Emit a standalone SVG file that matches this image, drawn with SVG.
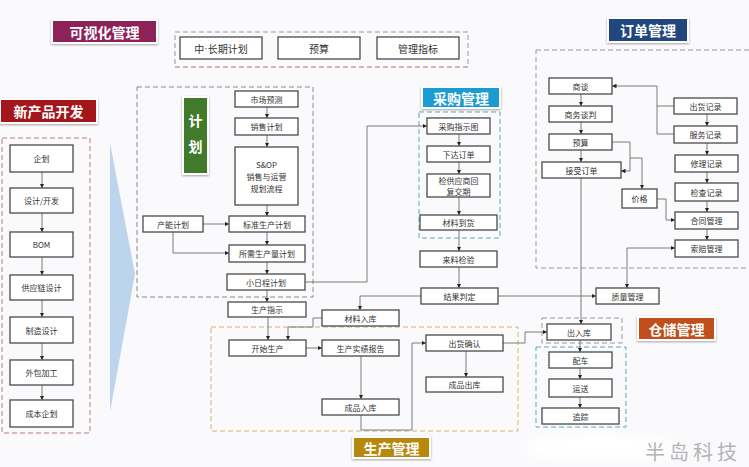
<svg xmlns="http://www.w3.org/2000/svg" width="749" height="467" viewBox="0 0 749 467">
<defs>
<marker id="a" viewBox="0 0 6 6" refX="6" refY="3" markerWidth="5" markerHeight="5" orient="auto-start-reverse"><path d="M0,0 L6,3 L0,6 z" fill="#222"/></marker>
<filter id="sh" x="-20%" y="-30%" width="140%" height="160%"><feDropShadow dx="0" dy="1" stdDeviation="1.2" flood-color="#000" flood-opacity="0.35"/></filter>
<filter id="bl"><feGaussianBlur stdDeviation="6"/></filter>
<style>
.n{fill:#fff;stroke:#4a4a4a;stroke-width:1.3}
.t{font-family:"Noto Sans CJK SC","Noto Sans",sans-serif;font-size:8px;fill:#333;text-anchor:middle;dominant-baseline:central}
.tb{font-size:10px}
.c{fill:none;stroke:#6e6e6e;stroke-width:0.9;marker-end:url(#a)}
.cn{fill:none;stroke:#6e6e6e;stroke-width:0.9}
.g{fill:none;stroke-width:1;stroke-dasharray:5 3}
.lab{stroke:#fff;stroke-width:2;filter:url(#sh)}
.lt{font-family:"Noto Sans CJK SC","Noto Sans",sans-serif;font-size:14px;font-weight:bold;fill:#fff;text-anchor:middle;dominant-baseline:central}
</style>
</defs>
<rect width="749" height="467" fill="#fafafc"/>

<!-- dashed groups -->
<g id="groups">
<rect class="g" x="175" y="32" width="293" height="35" stroke="#999"/>
<line x1="175" y1="67" x2="468" y2="67" stroke="#d9a0a8" stroke-width="1" stroke-dasharray="5 3"/>
<rect class="g" x="2" y="138" width="88" height="295" stroke="#b87884"/>
<rect class="g" x="137" y="87" width="176" height="210" stroke="#8a8a8a"/>
<rect class="g" x="419" y="112" width="81" height="126" stroke="#5aa9b3"/>
<rect class="g" x="211" y="327" width="307" height="104" stroke="#d4b464"/>
<rect class="g" x="536" y="50" width="220" height="218" stroke="#999"/>
<rect class="g" x="542" y="318" width="80" height="25" stroke="#999"/>
<rect class="g" x="536" y="347" width="90" height="80" stroke="#5aa9b3"/>
</g>

<polygon points="110,143 135,274 110,412" fill="#bcd5ed"/>

<!-- labels -->
<g id="lbl-visual"><rect class="lab" x="52" y="20" width="105" height="23" fill="#8c2458"/><text class="lt" x="104.5" y="31.5">可视化管理</text></g>
<g id="lbl-newprod"><rect class="lab" x="0" y="99" width="97" height="24" fill="#a5141e"/><text class="lt" x="48.5" y="111">新产品开发</text></g>
<g id="lbl-plan"><rect class="lab" x="183" y="97" width="25" height="77" fill="#3f7a2c"/><text class="lt" x="195.5" y="120" font-size="16">计</text><text class="lt" x="195.5" y="146" font-size="16">划</text></g>
<g id="lbl-purchase"><rect class="lab" x="422" y="87" width="78" height="21" fill="#1b9bd2"/><text class="lt" x="461" y="97.5">采购管理</text></g>
<g id="lbl-order"><rect class="lab" x="608" y="18" width="80" height="24" fill="#24477f"/><text class="lt" x="648" y="30">订单管理</text></g>
<g id="lbl-wh"><rect class="lab" x="638" y="317" width="77" height="23" fill="#c0501c"/><text class="lt" x="676.5" y="328.5">仓储管理</text></g>
<g id="lbl-prod"><rect class="lab" x="353" y="437" width="77" height="21" fill="#b8870e"/><text class="lt" x="391.5" y="447.5">生产管理</text></g>

<!-- connectors -->
<g id="connectors">
<path class="c" d="M42,172 V188"/>
<path class="c" d="M42,213 V232"/>
<path class="c" d="M42,257 V275"/>
<path class="c" d="M42,300 V317"/>
<path class="c" d="M42,343 V360"/>
<path class="c" d="M42,385 V400"/>

<path class="c" d="M267,107 V118"/>
<path class="c" d="M267,135 V147"/>
<path class="c" d="M267,205 V216"/>
<path class="c" d="M203,224 H229"/>
<path class="c" d="M173,232 V253 H229"/>
<path class="c" d="M267,232 V245"/>
<path class="c" d="M267,262 V274"/>
<path class="c" d="M305,282 H367 V126 H427"/>
<path class="c" d="M267,290 V302"/>
<path class="c" d="M268,317 V340"/>

<path class="c" d="M459,134 V146"/>
<path class="c" d="M459,162 V174"/>
<path class="c" d="M459,197 V215"/>
<path class="c" d="M459,230 V251"/>
<path class="c" d="M459,267 V288"/>
<path class="c" d="M421,296 H360 V310"/>
<path class="c" d="M498,296 H596"/>

<path class="c" d="M581,94 V106"/>
<path class="c" d="M581,122 V134"/>
<path class="c" d="M581,150 V162"/>
<path class="c" d="M674,106 H657 V86 H612"/>
<path class="cn" d="M674,134 H657 V106"/>
<path class="c" d="M707,114 V126"/>
<path class="c" d="M707,143 V155"/>
<path class="c" d="M707,172 V183"/>
<path class="c" d="M707,201 V212"/>
<path class="c" d="M707,229 V240"/>
<path class="c" d="M612,142 H630 V171 H621"/>
<path class="c" d="M630,158 H642 V189"/>
<path class="c" d="M657,199 H666 V220 H675"/>
<path class="c" d="M675,248 H627 V288" marker-start="url(#a)"/>
<path class="c" d="M581,178 V324"/>

<path class="c" d="M322,318 H313 V327 H288 V340"/>
<path class="c" d="M306,348 H322"/>
<path class="c" d="M361,356 V399"/>
<path class="c" d="M361,415 V430 H412 V343 H426"/>
<path class="c" d="M466,351 V377"/>
<path class="c" d="M503,343 H525 V332 H547"/>

<path class="c" d="M580,340 V352"/>
<path class="c" d="M580,368 V379"/>
<path class="c" d="M580,397 V408"/>
</g>

<!-- top -->
<g id="n-mid"><rect class="n" x="180" y="37" width="82" height="22"/><text class="t tb" x="221" y="48">中<tspan font-family="Liberation Sans">·</tspan>长期计划</text></g>
<g id="n-budget"><rect class="n" x="278" y="37" width="82" height="22"/><text class="t tb" x="319" y="48">预算</text></g>
<g id="n-kpi"><rect class="n" x="377" y="37" width="82" height="22"/><text class="t tb" x="418" y="48">管理指标</text></g>

<!-- new product -->
<g id="n-qh"><rect class="n" x="10" y="145" width="63" height="27"/><text class="t" x="41.5" y="158.5">企划</text></g>
<g id="n-sj"><rect class="n" x="10" y="188" width="63" height="25"/><text class="t" x="41.5" y="200.5">设计/开发</text></g>
<g id="n-bom"><rect class="n" x="10" y="232" width="63" height="25"/><text class="t" x="41.5" y="244.5">BOM</text></g>
<g id="n-gyl"><rect class="n" x="10" y="275" width="63" height="25"/><text class="t" x="41.5" y="287.5">供应链设计</text></g>
<g id="n-zz"><rect class="n" x="10" y="317" width="63" height="26"/><text class="t" x="41.5" y="330">制造设计</text></g>
<g id="n-wb"><rect class="n" x="10" y="360" width="63" height="25"/><text class="t" x="41.5" y="372.5">外包加工</text></g>
<g id="n-cb"><rect class="n" x="10" y="400" width="63" height="27"/><text class="t" x="41.5" y="413.5">成本企划</text></g>

<!-- planning -->
<g id="n-sc"><rect class="n" x="235" y="91" width="63" height="16"/><text class="t" x="266.5" y="99">市场预测</text></g>
<g id="n-xs"><rect class="n" x="235" y="118" width="63" height="17"/><text class="t" x="266.5" y="126.5">销售计划</text></g>
<g id="n-sop"><rect class="n" x="235" y="147" width="63" height="58"/><text class="t" x="266.5" y="164">S&amp;OP</text><text class="t" x="266.5" y="176">销售与运营</text><text class="t" x="266.5" y="188">规划流程</text></g>
<g id="n-cn"><rect class="n" x="143" y="216" width="60" height="16"/><text class="t" x="173" y="224">产能计划</text></g>
<g id="n-bz"><rect class="n" x="229" y="216" width="76" height="16"/><text class="t" x="267" y="224">标准生产计划</text></g>
<g id="n-sx"><rect class="n" x="229" y="245" width="76" height="17"/><text class="t" x="267" y="253.5">所需生产量计划</text></g>
<g id="n-xr"><rect class="n" x="227" y="274" width="78" height="16"/><text class="t" x="266" y="282">小日程计划</text></g>

<!-- procurement -->
<g id="n-cg"><rect class="n" x="427" y="118" width="63" height="16"/><text class="t" x="458.5" y="126">采购指示图</text></g>
<g id="n-xd"><rect class="n" x="427" y="146" width="63" height="16"/><text class="t" x="458.5" y="154">下达订单</text></g>
<g id="n-jg"><rect class="n" x="427" y="174" width="63" height="23"/><text class="t" x="458.5" y="180">检供应商回</text><text class="t" x="458.5" y="191">复交期</text></g>
<g id="n-cl"><rect class="n" x="420" y="215" width="77" height="15"/><text class="t" x="458.5" y="222.5">材料到货</text></g>
<g id="n-ll"><rect class="n" x="420" y="251" width="77" height="16"/><text class="t" x="458.5" y="259">来料检验</text></g>
<g id="n-jp"><rect class="n" x="421" y="288" width="77" height="16"/><text class="t" x="459.5" y="296">结果判定</text></g>

<!-- production -->
<g id="n-scz"><rect class="n" x="228" y="302" width="78" height="15"/><text class="t" x="267" y="309.5">生产指示</text></g>
<g id="n-clr"><rect class="n" x="322" y="310" width="77" height="16"/><text class="t" x="360.5" y="318">材料入库</text></g>
<g id="n-ks"><rect class="n" x="229" y="340" width="77" height="16"/><text class="t" x="267.5" y="348">开始生产</text></g>
<g id="n-sj2"><rect class="n" x="322" y="340" width="77" height="16"/><text class="t" x="360.5" y="348">生产实绩报告</text></g>
<g id="n-cpr"><rect class="n" x="322" y="399" width="77" height="16"/><text class="t" x="360.5" y="407">成品入库</text></g>
<g id="n-ch"><rect class="n" x="426" y="335" width="77" height="16"/><text class="t" x="464.5" y="343">出货确认</text></g>
<g id="n-cpc"><rect class="n" x="426" y="377" width="77" height="15"/><text class="t" x="464.5" y="384.5">成品出库</text></g>

<!-- order -->
<g id="n-st"><rect class="n" x="549" y="78" width="63" height="16"/><text class="t" x="580.5" y="86">商谈</text></g>
<g id="n-swtp"><rect class="n" x="549" y="106" width="63" height="16"/><text class="t" x="580.5" y="114">商务谈判</text></g>
<g id="n-ys"><rect class="n" x="549" y="134" width="63" height="16"/><text class="t" x="580.5" y="142">预算</text></g>
<g id="n-js"><rect class="n" x="542" y="162" width="79" height="16"/><text class="t" x="581.5" y="170">接受订单</text></g>
<g id="n-jgg"><rect class="n" x="622" y="189" width="35" height="19"/><text class="t" x="639.5" y="198.5">价格</text></g>
<g id="n-chjl"><rect class="n" x="674" y="98" width="63" height="16"/><text class="t" x="705.5" y="106">出货记录</text></g>
<g id="n-fw"><rect class="n" x="674" y="126" width="63" height="17"/><text class="t" x="705.5" y="134.5">服务记录</text></g>
<g id="n-xl"><rect class="n" x="675" y="155" width="63" height="17"/><text class="t" x="706.5" y="163.5">修理记录</text></g>
<g id="n-jc"><rect class="n" x="675" y="183" width="63" height="18"/><text class="t" x="706.5" y="192">检查记录</text></g>
<g id="n-ht"><rect class="n" x="675" y="212" width="63" height="17"/><text class="t" x="706.5" y="220.5">合同管理</text></g>
<g id="n-sp"><rect class="n" x="675" y="240" width="63" height="17"/><text class="t" x="706.5" y="248.5">索赔管理</text></g>
<g id="n-zl"><rect class="n" x="596" y="288" width="63" height="16"/><text class="t" x="627.5" y="296">质量管理</text></g>

<!-- warehouse -->
<g id="n-cr"><rect class="n" x="547" y="324" width="64" height="16"/><text class="t" x="579" y="332">出入库</text></g>
<g id="n-pc"><rect class="n" x="549" y="352" width="63" height="16"/><text class="t" x="580.5" y="360">配车</text></g>
<g id="n-ys2"><rect class="n" x="549" y="379" width="63" height="18"/><text class="t" x="580.5" y="388">运送</text></g>
<g id="n-zz2"><rect class="n" x="542" y="408" width="77" height="16"/><text class="t" x="580.5" y="416">追踪</text></g>

<ellipse cx="600" cy="447" rx="75" ry="14" fill="#fff" filter="url(#bl)"/>
<text x="645" y="460" font-family="Noto Sans CJK SC, sans-serif" font-size="20" fill="#b4b4b4" letter-spacing="4">半岛科技</text>
</svg>
